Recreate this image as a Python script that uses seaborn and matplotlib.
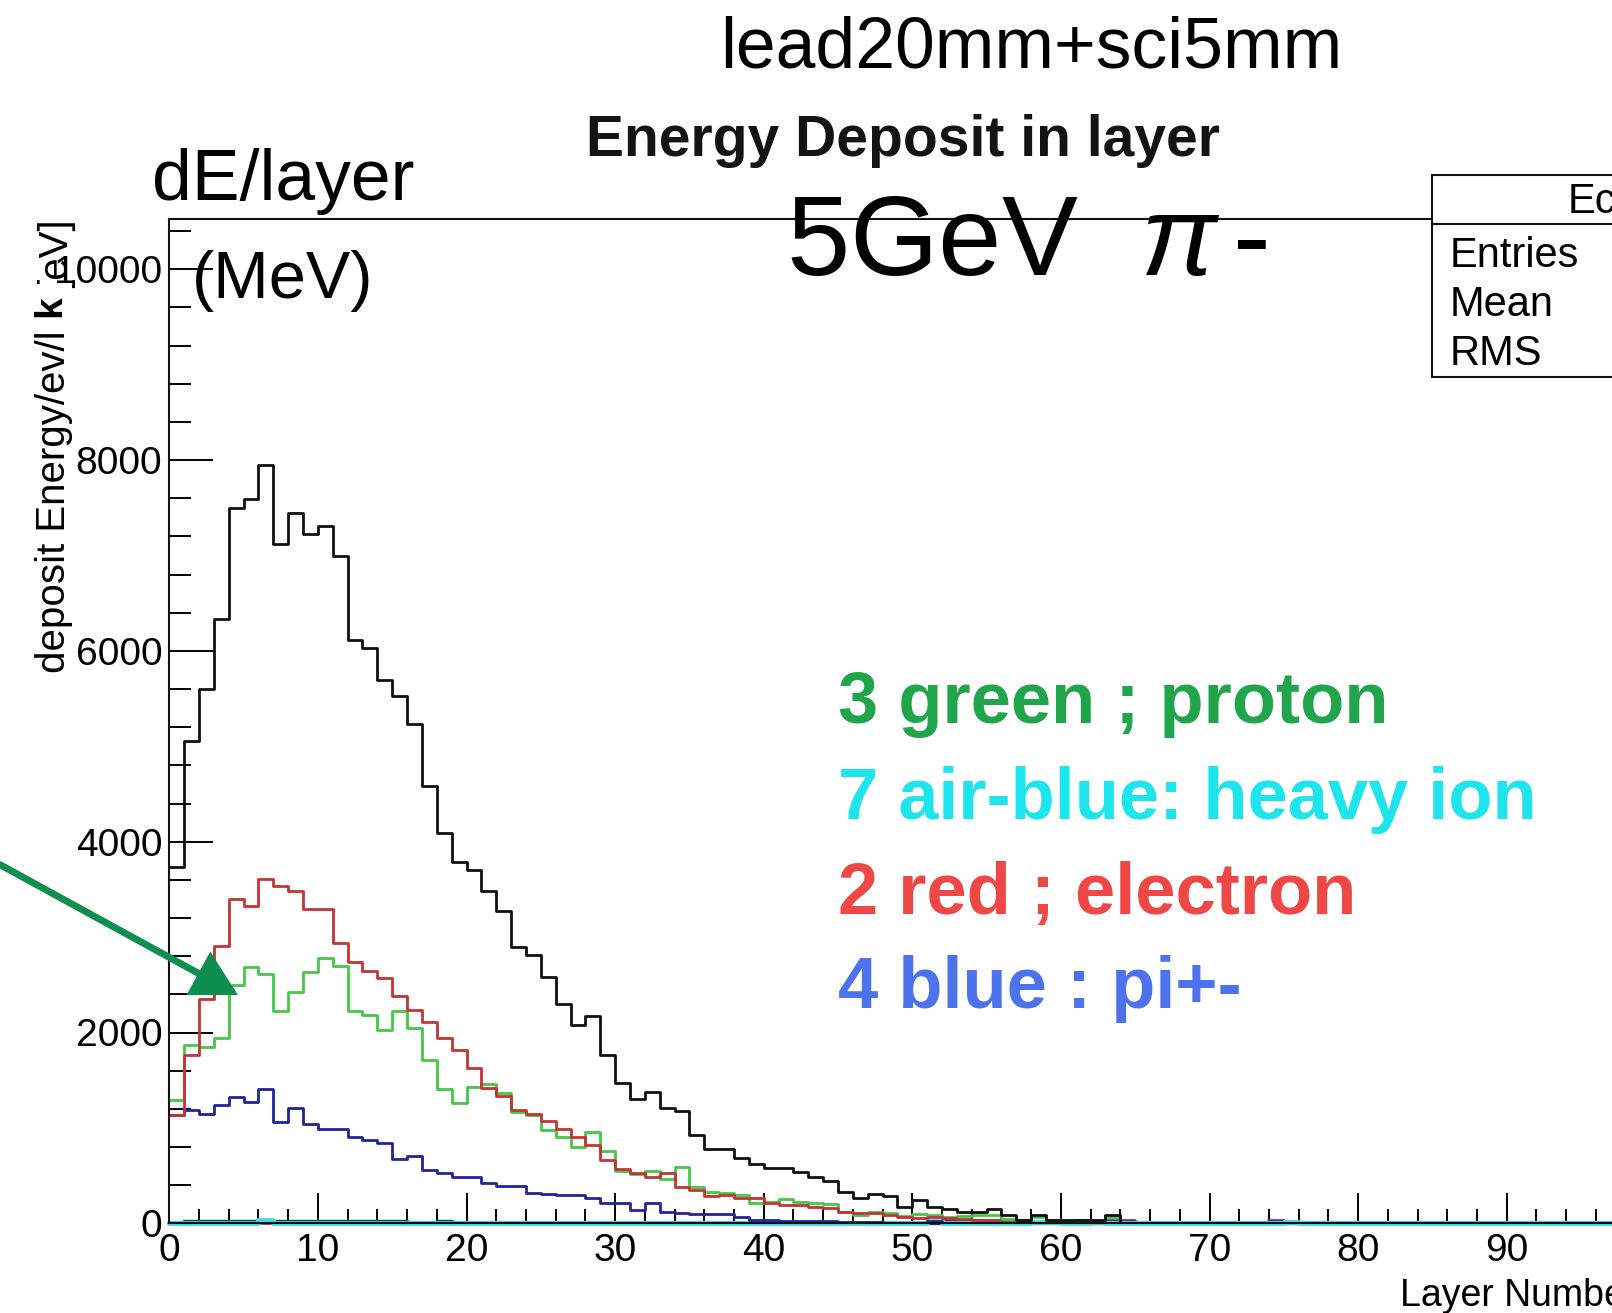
import numpy as np
import pandas as pd
import matplotlib
matplotlib.use("Agg")
import matplotlib.pyplot as plt
import seaborn as sns
from matplotlib.patches import Rectangle
from matplotlib.lines import Line2D
from matplotlib.ticker import MultipleLocator, FuncFormatter

# ---------------- data (energy deposit per layer, keV) ----------------
n_layers = 100
total_vals = [3730, 5060, 5600, 6330, 7500, 7590, 7950, 7120, 7450, 7230,
              7310, 6990, 6110, 6030, 5700, 5530, 5230, 4580, 4090, 3790,
              3700, 3480, 3270, 2900, 2810, 2580, 2300, 2080, 2170, 1760,
              1470, 1300, 1380, 1210, 1180, 930, 780, 780, 680, 620,
              580, 580, 540, 490, 440, 330, 260, 310, 290, 175,
              245, 175, 145, 120, 120, 155, 85, 35, 85, 35,
              35, 35, 35, 85]
electron_vals = [1130, 1764, 2350, 2910, 3400, 3330, 3610, 3540, 3480, 3290,
                 3290, 2940, 2740, 2640, 2570, 2380, 2240, 2110, 1940, 1820,
                 1630, 1420, 1335, 1185, 1145, 1070, 985, 908, 821, 664,
                 566, 530, 482, 530, 384, 349, 289, 293, 262, 262,
                 210, 192, 192, 174, 157, 122, 105, 105, 87, 70,
                 52, 70, 52, 40, 30, 20, 10, 10]
proton_vals = [1290, 1870, 1850, 1940, 2500, 2690, 2610, 2230, 2420, 2630,
               2780, 2700, 2230, 2180, 2030, 2230, 2050, 1710, 1410, 1260,
               1430, 1460, 1370, 1170, 1130, 975, 908, 797, 954, 761,
               552, 517, 552, 461, 594, 377, 332, 314, 293, 210,
               227, 251, 227, 210, 203, 122, 87, 122, 105, 77,
               98, 87, 70, 80, 87, 87, 50, 30, 70, 30,
               20, 20, 20, 70]
pion_vals = [1140, 1185, 1150, 1245, 1325, 1275, 1408, 1065, 1210, 1040,
             985, 985, 908, 873, 839, 672, 705, 562, 530, 485,
             485, 426, 396, 396, 314, 305, 295, 293, 269, 210,
             210, 140, 210, 122, 105, 98, 98, 98, 70, 35,
             30, 28, 28, 28, 28, 17, 17, 17, 0, 0,
             0, 20]
heavy_ion_vals = [0, 0, 0, 0, 0, 0, 30, 0, 0, 0,
                  0, 0, 0, 0, 0, 0, 0, 0, 0, 0,
                  0, 0, 0, 0, 0, 0, 0, 0, 0, 0,
                  0, 0, 0, 0, 0, 0, 0, 0, 0, 0,
                  0, 0, 0, 0, 0, 0, 0, 0, 0, 0,
                  0, 25, 0, 0, 0, 0, 0, 0, 15, 15,
                  0, 0, 15, 0, 0, 0, 0, 0, 0, 0,
                  0, 0, 0, 0, 0, 15]
other_vals = [0, 0, 0, 0, 0, 0, 0, 0, 0, 0,
              0, 0, 0, 0, 0, 0, 0, 0, 0, 0,
              0, 0, 0, 0, 0, 0, 0, 0, 0, 0,
              0, 0, 0, 0, 0, 0, 0, 0, 0, 0,
              0, 0, 0, 0, 0, 0, 0, 0, 0, 0,
              0, 0, 25, 25, 25, 25, 25, 0, 0, 0,
              0, 25, 0, 25, 25, 0, 0, 0, 0, 0,
              0, 0, 0, 0, 25]
neutral_vals = [0, 25, 25, 25, 25, 25, 25, 25, 25, 25,
                25, 25, 25, 25, 25, 25, 0, 0, 25]

y_ticks = [0, 2000, 4000, 6000, 8000, 10000]
x_ticks = [0, 10, 20, 30, 40, 50, 60, 70, 80, 90, 100]

legend_lines = [("3 green ; proton", "#20a54a"),
                ("7 air-blue: heavy ion", "#1ee4ee"),
                ("2 red ; electron", "#ef4646"),
                ("4 blue : pi+-", "#4d72ee")]
stats_labels = ["Entries", "Mean", "RMS"]

# ---------------- figure ----------------
W, H = 1612, 1313
sns.set_style("white")
plt.rcParams['font.family'] = ['Liberation Sans', 'DejaVu Sans']
plt.rcParams['mathtext.fontset'] = 'custom'
plt.rcParams['mathtext.rm'] = 'Liberation Sans'
plt.rcParams['mathtext.it'] = 'Liberation Sans:italic'
plt.rcParams['text.color'] = 'black'
plt.rcParams['xtick.color'] = 'black'
plt.rcParams['ytick.color'] = 'black'
plt.rcParams['axes.labelcolor'] = 'black'

fig = plt.figure(figsize=(W / 100, H / 100), dpi=100)
x0px, y0px, ytop_px, px_per_layer = 169.3, 1223.3, 219.0, 14.86
ax = fig.add_axes([x0px / W, 1 - y0px / H, px_per_layer * n_layers / W, (y0px - ytop_px) / H])


def full(v):
    return np.array(list(v) + [0] * (n_layers - len(v)), dtype=float)


bin_edges = list(range(n_layers + 1))
centers = np.arange(n_layers) + 0.5

series = [
    (other_vals, "#7a1f86", 2.6),
    (neutral_vals, "#123a3a", 2.4),
    (heavy_ion_vals, "#45dbe3", 3.5),
    (pion_vals, "#24249a", 2.0),
    (proton_vals, "#45c845", 2.0),
    (electron_vals, "#c43434", 2.0),
    (total_vals, "#111111", 2.0),
]
for i, (vals, col, lw) in enumerate(series):
    df = pd.DataFrame({"layer": centers, "edep": full(vals)})
    sns.histplot(data=df, x="layer", weights="edep", bins=bin_edges, element="step",
                 fill=False, color=col, linewidth=lw, ax=ax)
    if i < 3:
        ax.lines[-1].set_clip_on(False)

ax.set_xlim(0, n_layers)
ax.set_ylim(0, (y0px - ytop_px) / 0.0954)
ax.set_xticks(x_ticks)
ax.set_yticks(y_ticks)
ax.xaxis.set_minor_locator(MultipleLocator(2))
ax.yaxis.set_minor_locator(MultipleLocator(400))
ax.yaxis.set_major_formatter(FuncFormatter(lambda v, p: f"{int(v)}"))
ax.tick_params(axis='y', which='major', direction='in', length=31.5, width=1.4,
               labelsize=28, pad=5, left=True, right=False)
ax.tick_params(axis='y', which='minor', direction='in', length=15.8, width=1.4, left=True)
ax.tick_params(axis='x', which='major', direction='in', length=21.5, width=1.4,
               labelsize=28, pad=7, bottom=True, top=False)
ax.tick_params(axis='x', which='minor', direction='in', length=10, width=1.4, bottom=True)
for s in ['left', 'bottom', 'top']:
    ax.spines[s].set_color('#111111')
    ax.spines[s].set_linewidth(1.5)
ax.spines['right'].set_visible(False)
ax.set_ylabel("")
ax.set_xlabel("Layer Number", fontsize=27, ha='left', va='baseline')
ax.xaxis.set_label_coords((1400 - x0px) / (px_per_layer * n_layers), (y0px - 1306) / (y0px - ytop_px))


def fx(px):
    return px / W


def fy(py):
    return 1 - py / H


# y axis label pieces (rotated, baseline anchored)
fig.text(fx(65), fy(673), "deposit Energy/ev/l", rotation=90, rotation_mode='anchor',
         ha='left', va='baseline', fontsize=29)
fig.text(fx(65), fy(288), "[eV]", rotation=90, rotation_mode='anchor',
         ha='left', va='baseline', fontsize=29)
fig.add_artist(Rectangle((fx(13), fy(328)), fx(72 - 13), (328 - 284) / H,
                         transform=fig.transFigure, facecolor='white', edgecolor='none', zorder=9))
fig.text(fx(60), fy(317), "k", rotation=90, rotation_mode='anchor', ha='left', va='baseline',
         fontsize=28, fontweight='bold', zorder=10)

# stats box
fig.add_artist(Rectangle((fx(1432), fy(377)), fx(1700 - 1432), (377 - 175) / H,
                         transform=fig.transFigure, facecolor='white', edgecolor='#111111',
                         linewidth=1.5, zorder=5))
fig.add_artist(Line2D([fx(1432), 1.0], [fy(224), fy(224)], transform=fig.transFigure,
                      color='#111111', linewidth=1.5, zorder=6))
fig.text(fx(1568), fy(213), "EcalEdep", fontsize=30, ha='left', va='baseline', zorder=7)
for lab, by in zip(stats_labels, [267, 316, 365]):
    fig.text(fx(1450), fy(by), lab, fontsize=30, ha='left', va='baseline', zorder=7)

# titles
fig.text(fx(720), fy(68), "lead20mm+sci5mm", fontsize=51.5, ha='left', va='baseline')
fig.text(fx(586), fy(156), "Energy Deposit in layer", fontsize=41, fontweight='bold',
         ha='left', va='baseline', color='#141414')
fig.text(fx(786), fy(275), r"5GeV  $\pi\,$-", fontsize=82, ha='left', va='baseline', zorder=8)
fig.text(fx(152), fy(200), "dE/layer", fontsize=51.5, ha='left', va='baseline')
fig.text(fx(192), fy(298), "(MeV)", fontsize=48, ha='left', va='baseline')

# particle legend text
for (txt, col), by in zip(legend_lines, [723, 819, 914, 1008]):
    fig.text(fx(838), fy(by), txt, fontsize=52, fontweight='bold', color=col, ha='left', va='baseline')

# arrow pointing at the proton curve
ax.annotate("", xy=(4.62, 2393), xytext=(-11.4, 3760), xycoords='data', textcoords='data',
            annotation_clip=False,
            arrowprops=dict(arrowstyle='-|>,head_length=0.62,head_width=0.34', color='#0e8f50',
                            lw=5, shrinkA=0, shrinkB=0, mutation_scale=40, joinstyle='miter'))

fig.savefig("out.png", dpi=100)
